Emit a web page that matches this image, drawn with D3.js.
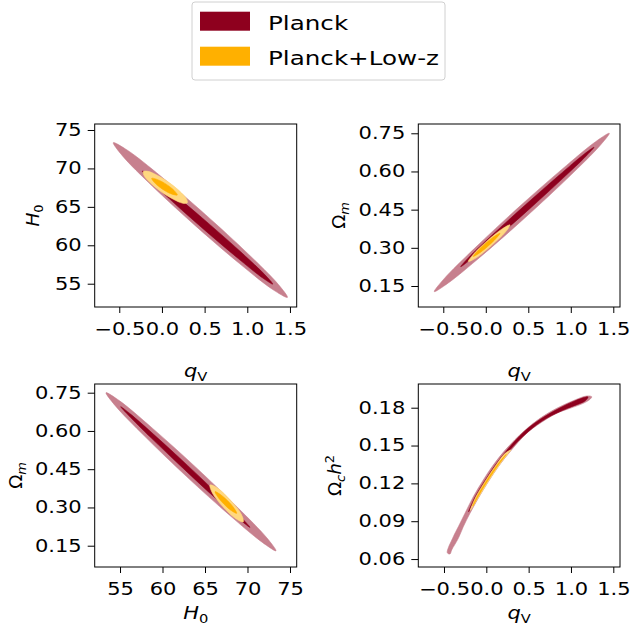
<!DOCTYPE html>
<html>
<head>
<meta charset="utf-8">
<script src="https://cdn.jsdelivr.net/npm/d3@7"></script>
<style>
  body { margin: 0; background: #fff; }
  svg { font-family: "DejaVu Sans", sans-serif; }
</style>
</head>
<body>
<svg id="chart" width="630" height="642"></svg>
<script>
// ---- data (contour outlines, in data units) ----
var legendLabels = ["Planck", "Planck+Low-z"];
var darkColors = ["#8e001e", "#ffb000"];   // 1 sigma
var lightColors = ["#c7808e", "#ffd880"];  // 2 sigma

var qvTicks = [-0.5, 0, 0.5, 1, 1.5], qvLabels = ["\u22120.5", "0.0", "0.5", "1.0", "1.5"];
var h0Ticks = [55, 60, 65, 70, 75], h0Labels = ["55", "60", "65", "70", "75"];
var omTicks = [0.15, 0.30, 0.45, 0.60, 0.75], omLabels = ["0.15", "0.30", "0.45", "0.60", "0.75"];
var ochTicks = [0.06, 0.09, 0.12, 0.15, 0.18], ochLabels = ["0.06", "0.09", "0.12", "0.15", "0.18"];

var qvTitle = [{t: "q", it: 1}, {t: "V", sub: 1}];
var h0Title = [{t: "H", it: 1}, {t: "0", sub: 1}];
var omTitle = [{t: "\u03a9"}, {t: "m", it: 1, sub: 1}];
var ochTitle = [{t: "\u03a9"}, {t: "c", it: 1, sub: 1}, {t: "h", it: 1}, {t: "2", sup: 1}];

// q_V vs H0
var tlPlanck2 = [[1.47,53.22],[1.362,54.93],[1.010,58.88],[0.508,64.01],[-0.010,68.95],[-0.404,72.36],[-0.570,73.35],[-0.462,71.63],[-0.111,67.68],[0.391,62.55],[0.909,57.62],[1.303,54.21]];
var tlPlanck1 = [[1.298,54.95],[1.210,56.12],[0.942,58.95],[0.563,62.68],[0.178,66.30],[-0.113,68.87],[-0.230,69.66],[-0.142,68.49],[0.126,65.66],[0.505,61.93],[0.890,58.31],[1.181,55.74]];
var tlLowz2 = [[0.297,65.53],[0.283,66.12],[0.203,67.10],[0.080,68.19],[-0.055,69.11],[-0.164,69.62],[-0.219,69.57],[-0.205,68.98],[-0.125,68.01],[-0.002,66.91],[0.133,65.99],[0.242,65.48]];
var tlLowz1 = [[0.180,66.54],[0.121,67.36],[-0.029,68.44],[-0.120,68.71],[-0.062,67.88],[0.089,66.78]];

// q_V vs Omega_m
var trPlanck2 = [[1.453,0.750],[1.339,0.700],[0.979,0.579],[0.471,0.421],[-0.051,0.268],[-0.445,0.161],[-0.606,0.128],[-0.492,0.178],[-0.132,0.298],[0.376,0.456],[0.898,0.609],[1.292,0.717]];
var trPlanck1 = [[1.273,0.695],[1.179,0.660],[0.900,0.571],[0.511,0.452],[0.115,0.336],[-0.179,0.254],[-0.295,0.226],[-0.201,0.262],[0.078,0.351],[0.467,0.469],[0.862,0.585],[1.156,0.668]];
var trLowz2 = [[0.285,0.390],[0.231,0.362],[0.065,0.308],[-0.115,0.260],[-0.206,0.246],[-0.151,0.273],[0.015,0.327],[0.195,0.375]];
var trLowz1 = [[0.167,0.357],[0.101,0.330],[-0.056,0.284],[-0.147,0.266],[-0.081,0.293],[0.076,0.339]];

// H0 vs Omega_m
var blPlanck2 = [[73.35,0.130],[72.27,0.181],[68.80,0.301],[63.87,0.459],[58.80,0.611],[54.95,0.718],[53.35,0.750],[54.44,0.699],[57.91,0.579],[62.84,0.421],[67.91,0.269],[71.75,0.163]];
var blPlanck1 = [[70.29,0.222],[69.40,0.256],[66.72,0.345],[62.94,0.465],[59.11,0.582],[56.24,0.666],[55.08,0.695],[55.98,0.662],[58.66,0.573],[62.44,0.453],[66.27,0.335],[69.15,0.251]];
var blLowz2 = [[69.51,0.244],[69.24,0.275],[67.98,0.329],[66.47,0.376],[65.59,0.388],[65.86,0.357],[67.11,0.303],[68.62,0.256]];
var blLowz1 = [[68.73,0.277],[68.27,0.304],[67.00,0.346],[66.18,0.362],[66.64,0.335],[67.92,0.292]];

// q_V vs Omega_c h^2
var brPlanck2 = [[-0.461,0.0650],[-0.390,0.0777],[-0.331,0.0856],[-0.252,0.0963],[-0.154,0.1094],[-0.036,0.1227],[0.082,0.1346],[0.241,0.1478],[0.437,0.1610],[0.634,0.1716],[0.831,0.1795],[1.027,0.1856],[1.186,0.1893],[1.245,0.1887],[1.225,0.1867],[1.146,0.1835],[0.988,0.1795],[0.831,0.1756],[0.634,0.1676],[0.477,0.1597],[0.280,0.1451],[0.141,0.1332],[0.023,0.1213],[-0.095,0.1082],[-0.193,0.0963],[-0.272,0.0856],[-0.331,0.0764],[-0.409,0.0672],[-0.429,0.0640]];
var brPlanck1 = [[-0.21,0.0975],[-0.132,0.1094],[-0.012,0.1227],[0.106,0.1346],[0.262,0.1478],[0.445,0.1610],[0.655,0.1716],[0.86,0.1795],[1.05,0.1856],[1.2,0.1885],[1.17,0.1856],[0.96,0.1795],[0.712,0.1716],[0.495,0.1610],[0.296,0.1478],[0.134,0.1346],[0.013,0.1227],[-0.108,0.1094]];
var brLowz2 = [[-0.19,0.0985],[-0.123,0.1094],[-0.004,0.1227],[0.115,0.1346],[0.225,0.1440],[0.29,0.1465],[0.262,0.1440],[0.155,0.1346],[0.035,0.1227],[-0.088,0.1094]];
var brLowz1 = [[-0.16,0.1020],[-0.110,0.1094],[0.008,0.1227],[0.128,0.1346],[0.235,0.1430],[0.142,0.1346],[0.022,0.1227],[-0.098,0.1094]];

// ---- layout ----
var svg = d3.select("#chart");
var sx = 1.25;         // horizontal text in the reference is stretched
var tickFont = 16.8, titleFont = 16.8, legendFont = 19.7;

var panels = [
  {left: 94.7, right: 296.7, top: 124, bottom: 307, xDomain: [-0.788, 1.579], yDomain: [51.97, 75.78],
   xTicks: qvTicks, xLabels: qvLabels, yTicks: h0Ticks, yLabels: h0Labels, xTitle: qvTitle, yTitle: h0Title,
   xTitleY: 377, yTitleX: 39, layers: [tlPlanck2, tlPlanck1, tlLowz2, tlLowz1]},
  {left: 418.3, right: 620, top: 124, bottom: 307, xDomain: [-0.794, 1.579], yDomain: [0.0675, 0.7865],
   xTicks: qvTicks, xLabels: qvLabels, yTicks: omTicks, yLabels: omLabels, xTitle: qvTitle, yTitle: omTitle,
   xTitleY: 377, yTitleX: 345, layers: [trPlanck2, trPlanck1, trLowz2, trLowz1]},
  {left: 94.7, right: 296.7, top: 384, bottom: 567, xDomain: [52.02, 75.79], yDomain: [0.0665, 0.7841],
   xTicks: h0Ticks, xLabels: h0Labels, yTicks: omTicks, yLabels: omLabels, xTitle: h0Title, yTitle: omTitle,
   xTitleY: 619, yTitleX: 22, layers: [blPlanck2, blPlanck1, blLowz2, blLowz1]},
  {left: 418.3, right: 620, top: 384, bottom: 567, xDomain: [-0.8035, 1.579], yDomain: [0.0537, 0.1988],
   xTicks: qvTicks, xLabels: qvLabels, yTicks: ochTicks, yLabels: ochLabels, xTitle: qvTitle, yTitle: ochTitle,
   xTitleY: 619, yTitleX: 341, layers: [brPlanck2, brPlanck1, brLowz2, brLowz1]}
];
var layerColors = [lightColors[0], darkColors[0], lightColors[1], darkColors[1]];

function addMath(text, parts, size) {
  var shift = 0;
  parts.forEach(function(p) {
    var target = p.sub ? size * 0.22 : (p.sup ? -size * 0.42 : 0);
    text.append("tspan").text(p.t)
      .attr("dy", target - shift)
      .attr("font-size", (p.sub || p.sup) ? size * 0.7 : size)
      .attr("font-style", p.it ? "italic" : "normal");
    shift = target;
  });
}

panels.forEach(function(p, k) {
  var x = d3.scaleLinear().domain(p.xDomain).range([p.left, p.right]);
  var y = d3.scaleLinear().domain(p.yDomain).range([p.bottom, p.top]);
  var g = svg.append("g");

  g.append("clipPath").attr("id", "clip" + k)
    .append("rect").attr("x", p.left).attr("y", p.top)
    .attr("width", p.right - p.left).attr("height", p.bottom - p.top);

  var line = d3.line()
    .x(function(d) { return x(d[0]); })
    .y(function(d) { return y(d[1]); })
    .curve(d3.curveCatmullRomClosed.alpha(0.5));

  g.append("g").attr("clip-path", "url(#clip" + k + ")")
    .selectAll("path")
    .data(p.layers)
    .enter().append("path")
      .attr("d", line)
      .attr("fill", function(d, i) { return layerColors[i]; })
      .attr("stroke", function(d, i) { return layerColors[i]; })
      .attr("stroke-width", 0.6);

  // x axis
  var xa = g.append("g").attr("transform", "translate(0," + p.bottom + ")")
    .call(d3.axisBottom(x).tickValues(p.xTicks)
      .tickFormat(function(d, i) { return p.xLabels[i]; })
      .tickSize(6).tickSizeOuter(0).tickPadding(10.5));
  // y axis
  var ya = g.append("g").attr("transform", "translate(" + p.left + ",0)")
    .call(d3.axisLeft(y).tickValues(p.yTicks)
      .tickFormat(function(d, i) { return p.yLabels[i]; })
      .tickSize(7).tickSizeOuter(0).tickPadding(3.4));

  [xa, ya].forEach(function(a) {
    a.select(".domain").remove();
    a.attr("font-family", null).attr("font-size", null);
    a.selectAll("line").attr("stroke", "#000").attr("stroke-width", 1);
    a.selectAll("text").attr("fill", "#000").attr("font-size", tickFont)
      .attr("transform", "scale(" + sx + ",1)");
  });

  // frame
  g.append("rect").attr("x", p.left).attr("y", p.top)
    .attr("width", p.right - p.left).attr("height", p.bottom - p.top)
    .attr("fill", "none").attr("stroke", "#000").attr("stroke-width", 1);

  // titles
  var xt = g.append("text").attr("text-anchor", "middle")
    .attr("transform", "translate(" + (p.left + p.right) / 2 + "," + p.xTitleY + ") scale(" + sx + ",1)");
  addMath(xt, p.xTitle, titleFont);
  var yt = g.append("text").attr("text-anchor", "middle")
    .attr("transform", "translate(" + p.yTitleX + "," + (p.top + p.bottom) / 2 + ") rotate(-90) scale(1.1,1)");
  addMath(yt, p.yTitle, titleFont);
});

// legend
var lg = svg.append("g");
lg.append("rect").attr("x", 192).attr("y", 2).attr("width", 253).attr("height", 78)
  .attr("rx", 3).attr("fill", "#fff").attr("stroke", "#d0d0d0").attr("stroke-width", 1);
var items = lg.selectAll("g.item").data(legendLabels).enter().append("g")
  .attr("transform", function(d, i) { return "translate(0," + i * 35 + ")"; });
items.append("rect").attr("x", 200).attr("y", 11.7).attr("width", 50).attr("height", 19)
  .attr("fill", function(d, i) { return darkColors[i]; });
items.append("text").attr("transform", "translate(268,30) scale(" + sx + ",1)")
  .attr("font-size", legendFont).text(function(d) { return d; });
</script>
</body>
</html>
